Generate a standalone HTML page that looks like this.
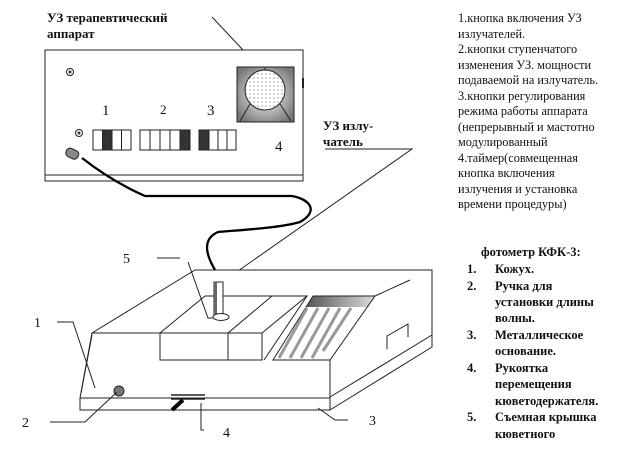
<!DOCTYPE html>
<html><head><meta charset="utf-8"><style>
body{margin:0;background:#fff;}
svg{display:block;}
text{font-family:"Liberation Serif","DejaVu Serif",serif;fill:#111;}
</style></head><body>
<svg width="625" height="450" viewBox="0 0 625 450" xmlns="http://www.w3.org/2000/svg">
<defs>
<radialGradient id="dg" cx="50%" cy="50%" r="60%"><stop offset="0" stop-color="#fff"/><stop offset="1" stop-color="#777"/></radialGradient>
<linearGradient id="gg" x1="0" x2="1"><stop offset="0" stop-color="#555"/><stop offset="1" stop-color="#ddd"/></linearGradient>
<pattern id="dots" width="4" height="4" patternUnits="userSpaceOnUse"><rect width="4" height="4" fill="#fff"/><circle cx="2" cy="2" r="0.6" fill="#666"/></pattern>
</defs>
<g stroke="#222" stroke-width="1" fill="none">
<!-- top apparatus -->
<text x="47" y="22" font-size="13" font-weight="bold" stroke="none">УЗ терапевтический</text>
<text x="47" y="38" font-size="13" font-weight="bold" stroke="none">аппарат</text>
<line x1="212" y1="17" x2="243" y2="50"/>
<rect x="45" y="50" width="258" height="131" fill="#fff"/>
<line x1="45" y1="175" x2="303" y2="175"/>
<line x1="303" y1="78" x2="303" y2="88" stroke-width="2"/>
<rect x="237" y="67" width="57" height="55" fill="url(#dg)"/>
<circle cx="265" cy="90" r="20" fill="url(#dots)"/>
<line x1="265" y1="67" x2="265" y2="70"/><line x1="250" y1="104" x2="240" y2="121"/><line x1="280" y1="104" x2="291" y2="121"/>
<circle cx="70" cy="72" r="3.5" fill="#fff"/><circle cx="70" cy="72" r="1.5" fill="#333" stroke="none"/>
<circle cx="79" cy="133" r="3.5" fill="#fff"/><circle cx="79" cy="133" r="1.5" fill="#333" stroke="none"/>
<text x="102" y="115" font-size="15" stroke="none">1</text>
<text x="160" y="114" font-size="13" stroke="none">2</text>
<text x="207" y="115" font-size="15" stroke="none">3</text>
<text x="275" y="151" font-size="15" stroke="none">4</text>
<rect x="93" y="130" width="38" height="20" fill="#fff"/>
<rect x="102.5" y="130" width="9.5" height="20" fill="#333"/><line x1="121.5" y1="130" x2="121.5" y2="150"/>
<rect x="140" y="130" width="50" height="20" fill="#fff"/>
<line x1="150" y1="130" x2="150" y2="150"/><line x1="160" y1="130" x2="160" y2="150"/><line x1="170" y1="130" x2="170" y2="150"/>
<rect x="180" y="130" width="10" height="20" fill="#333"/>
<rect x="199" y="130" width="37" height="20" fill="#fff"/>
<rect x="199" y="130" width="10" height="20" fill="#333"/><line x1="218" y1="130" x2="218" y2="150"/><line x1="227" y1="130" x2="227" y2="150"/>
<rect x="66" y="149" width="13" height="9" rx="4" fill="#888" transform="rotate(25 72 153)"/>
<!-- cable -->
<path d="M82,158 C100,172 120,185 145,196 L292,196 C312,200 318,212 300,222 C280,228 240,230 218,232 C200,240 208,258 215,270 L218,285" stroke="#000" stroke-width="2.3"/>
<!-- UZ label -->
<text x="323" y="130" font-size="13" font-weight="bold" stroke="none">УЗ излу-</text>
<text x="323" y="146" font-size="13" font-weight="bold" stroke="none">чатель</text>
<polyline points="325,149 412,149 228,278"/>
<!-- photometer -->
<polygon points="195,270 432,270 432,335 330,397 330,360 92,333" fill="#fff" stroke="none"/>
<polyline points="92,333 195,270 432,270 432,347 330,410"/>
<polyline points="80,398 92,333 160,333"/>
<line x1="330" y1="360" x2="330" y2="398"/>
<line x1="330" y1="397" x2="432" y2="335"/>
<line x1="273" y1="360" x2="330" y2="360"/>
<line x1="375" y1="296" x2="410" y2="280"/>
<rect x="80" y="398" width="250" height="12" fill="#fff"/>
<!-- block -->
<polygon points="160,333 205,296 307,296 262,333" fill="#fff"/>
<rect x="160" y="333" width="102" height="27" fill="#fff"/>
<line x1="228" y1="333" x2="228" y2="360"/><line x1="228" y1="333" x2="272" y2="296"/>
<line x1="307" y1="296" x2="264" y2="360"/>
<!-- grating -->
<polygon points="313,296 375,296 368,307 306,307" fill="url(#gg)" stroke="none"/>
<polygon points="313,296 375,296 330,360 273,360"/>
<g stroke="#999" stroke-width="3">
<line x1="307" y1="308" x2="279" y2="358"/><line x1="318" y1="308" x2="290" y2="358"/><line x1="329" y1="308" x2="301" y2="358"/><line x1="340" y1="308" x2="312" y2="358"/><line x1="351" y1="308" x2="323" y2="351"/>
</g>
<polyline points="387,349 387,336 408,324 408,337"/>
<!-- probe -->
<rect x="214" y="282" width="9" height="33" fill="#fff" stroke="#222"/>
<rect x="214" y="282" width="3" height="33" fill="#666" stroke="none"/>
<ellipse cx="221" cy="317" rx="8" ry="3.5" fill="#fff"/>
<!-- knob -->
<circle cx="119" cy="391" r="5" fill="#777"/>
<!-- slider -->
<line x1="171" y1="395" x2="205" y2="395" stroke-width="1.5"/><line x1="171" y1="399" x2="205" y2="399" stroke-width="1.5"/>
<line x1="172" y1="410" x2="183" y2="400" stroke="#000" stroke-width="4"/>
<!-- labels/leaders -->
<text x="123" y="263" font-size="14" stroke="none">5</text>
<line x1="157" y1="258" x2="180" y2="258"/><polyline points="188,262 208,318 213,318"/>
<text x="34" y="327" font-size="14" stroke="none">1</text>
<polyline points="57,322 73,322 95,388"/><line x1="92" y1="335" x2="81" y2="393"/>
<text x="22" y="427" font-size="14" stroke="none">2</text>
<polyline points="50,422 85,422 117,392"/>
<text x="369" y="425" font-size="14" stroke="none">3</text>
<polyline points="348,420 335,420 318,408"/>
<text x="223" y="437" font-size="14" stroke="none">4</text>
<polyline points="201,403 201,430 204,430"/>
</g>
<g font-size="12.3">
<text x="458" y="22">1.кнопка включения  УЗ</text>
<text x="458" y="38">излучателей.</text>
<text x="458" y="53">2.кнопки ступенчатого</text>
<text x="458" y="69">изменения  УЗ. мощности</text>
<text x="458" y="84">подаваемой на излучатель.</text>
<text x="458" y="100">3.кнопки регулирования</text>
<text x="458" y="115">режима работы аппарата</text>
<text x="458" y="131">(непрерывный и мастотно</text>
<text x="458" y="146">модулированный</text>
<text x="458" y="162">4.таймер(совмещенная</text>
<text x="458" y="177">кнопка включения</text>
<text x="458" y="193">излучения и установка</text>
<text x="458" y="208">времени процедуры)</text>
</g>
<g font-size="12.5" font-weight="bold">
<text x="481" y="256">фотометр КФК-3:</text>
<text x="467" y="273">1.</text><text x="495" y="273">Кожух.</text>
<text x="467" y="290">2.</text><text x="495" y="290">Ручка для</text>
<text x="495" y="306">установки длины</text>
<text x="495" y="322">волны.</text>
<text x="467" y="339">3.</text><text x="495" y="339">Металлическое</text>
<text x="495" y="355">основание.</text>
<text x="467" y="372">4.</text><text x="495" y="372">Рукоятка</text>
<text x="495" y="388">перемещения</text>
<text x="495" y="405">кюветодержателя.</text>
<text x="467" y="421">5.</text><text x="495" y="421">Съемная крышка</text>
<text x="495" y="438">кюветного</text>
</g>
</svg>
</body></html>
